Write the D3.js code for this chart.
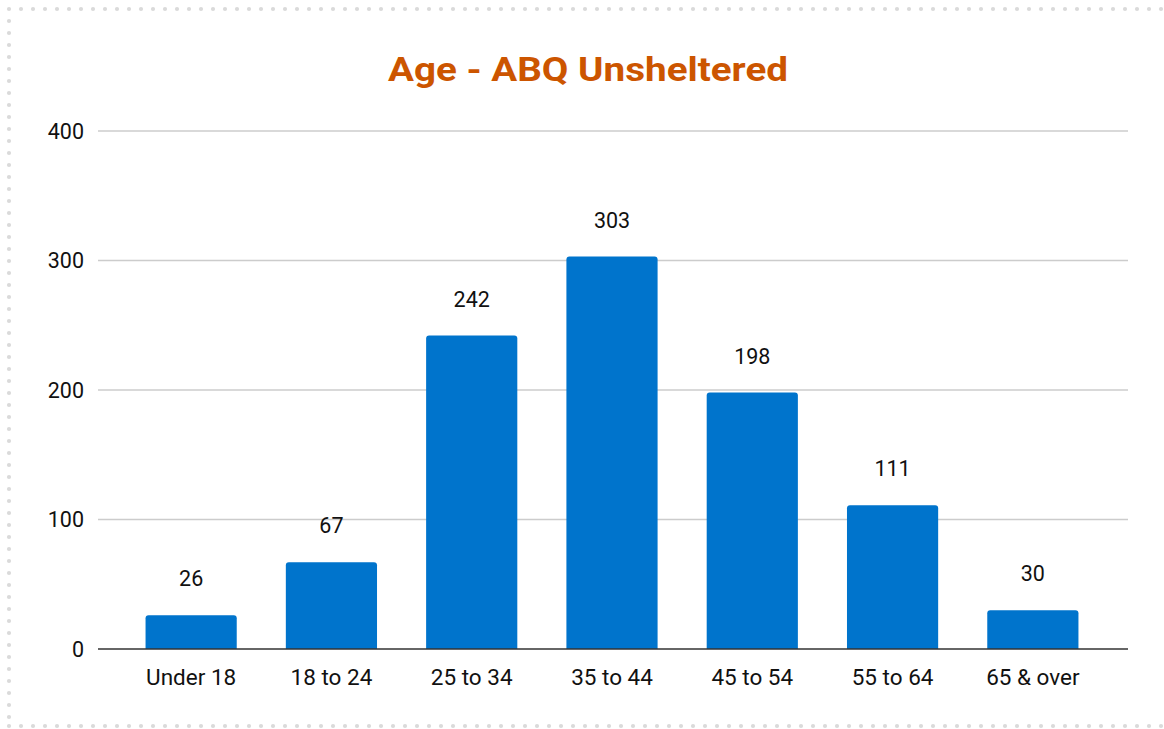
<!DOCTYPE html>
<html><head><meta charset="utf-8">
<script src="https://cdn.jsdelivr.net/npm/d3@7"></script>
<style>body{margin:0;background:#fff;font-family:Roboto,sans-serif;}</style>
</head><body>
<svg id="c" width="1164" height="729"></svg>
<script>
const categories = ["Under 18","18 to 24","25 to 34","35 to 44","45 to 54","55 to 64","65 & over"];
const values = [26,67,242,303,198,111,30];
const yTicks = [0,100,200,300,400];
const title = "Age - ABQ Unsheltered";

const svg = d3.select("#c");
// dotted border
const dots = svg.append("g");
for (let x = 9; x <= 1170; x += 12) { dots.append("circle").attr("cx", x).attr("cy", 9).attr("r", 2.1).attr("fill", "#dadada"); dots.append("circle").attr("cx", x).attr("cy", 726).attr("r", 2.1).attr("fill", "#dadada"); }
for (let y = 21; y < 726; y += 12) { dots.append("circle").attr("cx", 9).attr("cy", y).attr("r", 2.1).attr("fill", "#dadada"); }

const gridL = 98, gridR = 1128;
const x = d3.scaleBand().domain(categories).range([121, 1103]).paddingInner(0.35).paddingOuter(0.175);
const y = d3.scaleLinear().domain([0,400]).range([649,131]);

svg.append("text").attr("x", 588).attr("y", 81).attr("text-anchor","middle")
  .attr("font-size", 33).attr("font-weight","bold").attr("fill","#cc5500")
  .attr("textLength", 400).attr("lengthAdjust","spacingAndGlyphs").text(title);

// grid
svg.append("g").selectAll("line").data(yTicks.filter(d=>d>0)).join("line")
  .attr("x1", gridL).attr("x2", gridR).attr("y1", d=>y(d)).attr("y2", d=>y(d))
  .attr("stroke","#cccccc").attr("stroke-width",1.3);

// y labels
svg.append("g").selectAll("text").data(yTicks).join("text")
  .attr("x", 84).attr("y", d=>y(d)).attr("dy","0.35em").attr("text-anchor","end")
  .attr("font-size", 21.5).attr("fill","#111").text(d=>d);

// bars with rounded top corners
const r = 3;
svg.append("g").selectAll("path").data(values).join("path")
  .attr("fill","#0074cc")
  .attr("d", (d,i) => {
    const x0 = x(categories[i]), w = x.bandwidth(), y0 = y(d), yb = y(0);
    return `M${x0},${yb}V${y0+r}Q${x0},${y0} ${x0+r},${y0}H${x0+w-r}Q${x0+w},${y0} ${x0+w},${y0+r}V${yb}Z`;
  });

// value labels
svg.append("g").selectAll("text").data(values).join("text")
  .attr("x", (d,i)=>x(categories[i])+x.bandwidth()/2).attr("y", d=>y(d)-29)
  .attr("text-anchor","middle").attr("font-size", 21.5).attr("fill","#111").text(d=>d);

// axis line
svg.append("line").attr("x1", gridL).attr("x2", gridR).attr("y1", y(0)).attr("y2", y(0))
  .attr("stroke","#333").attr("stroke-width",1.6);

// x labels
svg.append("g").selectAll("text").data(categories).join("text")
  .attr("x", d=>x(d)+x.bandwidth()/2).attr("y", 685).attr("text-anchor","middle")
  .attr("font-size", 22.5).attr("fill","#111").text(d=>d);
</script>
</body></html>
